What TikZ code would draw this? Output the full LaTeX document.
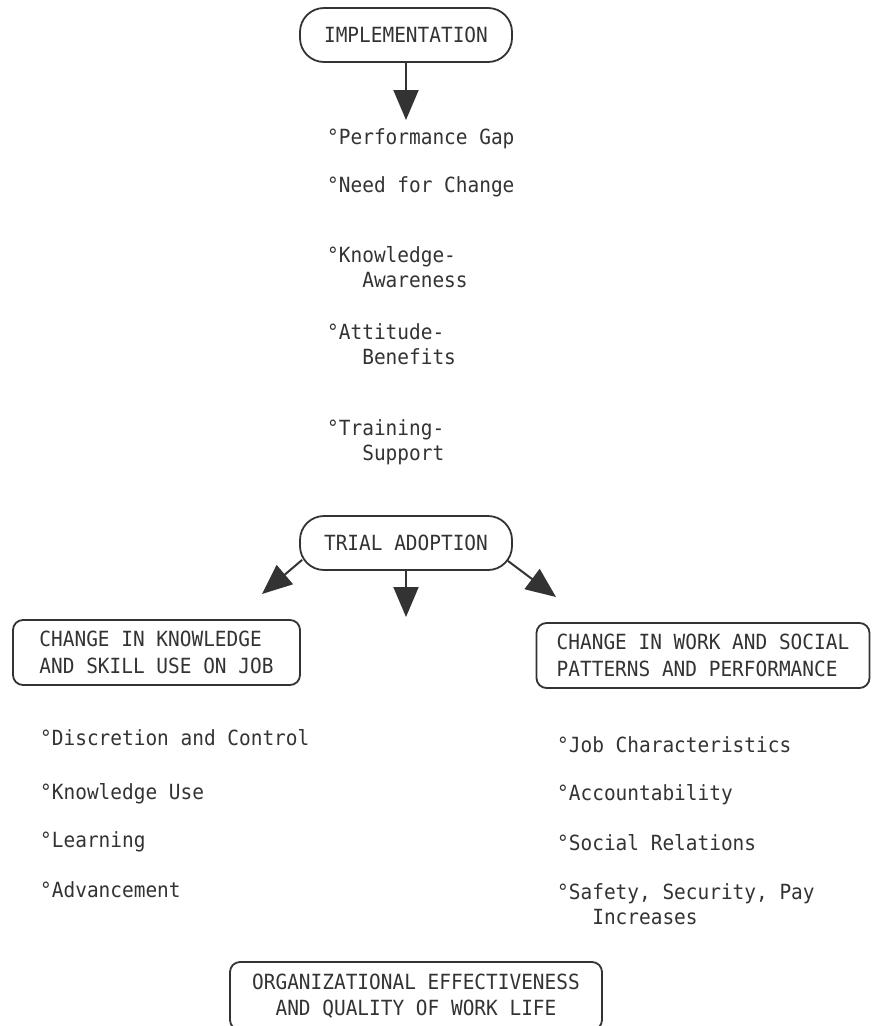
\documentclass[tikz,border=0pt]{standalone}
\usepackage{fontspec}
\usetikzlibrary{arrows.meta,calc}
% typewriter face used for every label
\newfontfamily\typewriter[FakeStretch=0.93]{DejaVu Sans Mono}
\definecolor{ink}{HTML}{333333}
\definecolor{paper}{HTML}{FFFFFF}
\begin{document}
\begin{tikzpicture}[x=1pt,y=-1pt,
  every node/.style={font=\typewriter\fontsize{20.9}{25}\selectfont, text=ink},
  stadium/.style={draw=ink, line width=1.8pt, rounded corners=24pt,
    minimum width=212pt, minimum height=54pt, inner sep=0pt},
  panel/.style={draw=ink, line width=1.8pt, rounded corners=10pt,
    inner sep=0pt, font=\typewriter\fontsize{20.9}{27}\selectfont},
  item/.style={anchor=base west, inner sep=0pt, align=left},
  flow/.style={draw=ink, line width=2pt, -{Triangle[length=30pt,width=25pt]}}
]
\fill[paper] (0,0) rectangle (871,1026);
\useasboundingbox (0,0) rectangle (871,1026);

% stage boxes
\node[stadium] (impl) at (406,35) {IMPLEMENTATION};
\node[stadium] (trial) at (406,543) {TRIAL ADOPTION};

% outcome panels
\node[panel, align=left, minimum width=287pt, minimum height=65pt]
  (skill) at (156.5,652.5) {CHANGE IN KNOWLEDGE\\AND SKILL USE ON JOB};
\node[panel, align=left, minimum width=333pt, minimum height=65pt]
  (work) at (703,655.5) {CHANGE IN WORK AND SOCIAL\\PATTERNS AND PERFORMANCE};
\node[panel, align=center, minimum width=372pt, minimum height=68pt, font=\typewriter\fontsize{20.9}{26}\selectfont]
  (qwl) at (416,996) {ORGANIZATIONAL EFFECTIVENESS\\AND QUALITY OF WORK LIFE};

% factors leading to trial adoption (base = baseline of the last line)
\node[item] (gap)   at (327,144.5) {°Performance Gap};
\node[item] (need)  at (327,192.5) {°Need for Change};
\node[item] (aware) at (327,287.5) {°Knowledge-\\\hphantom{°Kn}Awareness};
\node[item] (att)   at (327,364.5) {°Attitude-\\\hphantom{°At}Benefits};
\node[item] (train) at (327,460.5) {°Training-\\\hphantom{°Tr}Support};

% knowledge and skill outcomes
\node[item] (disc)  at (40,745.5) {°Discretion and Control};
\node[item] (kuse)  at (40,799.5) {°Knowledge Use};
\node[item] (learn) at (40,847.5) {°Learning};
\node[item] (adv)   at (40,897.5) {°Advancement};

% work and social outcomes
\node[item] (job)   at (557,752.5) {°Job Characteristics};
\node[item] (acc)   at (557,800.5) {°Accountability};
\node[item] (soc)   at (557,850.5) {°Social Relations};
\node[item] (safe)  at (557,924.5) {°Safety, Security, Pay\\\hphantom{°Sa}Increases};

% arrow ends
\coordinate (implTip) at (406,120);
\coordinate (tipL) at (262,594);
\coordinate (tipM) at (406,617);
\coordinate (tipR) at (556,597);

\draw[flow] (impl.south) -- (implTip);
\draw[flow] ($(trial.south west)+(3,-11)$) -- (tipL);
\draw[flow] (trial.south) -- (tipM);
\draw[flow] ($(trial.south east)+(-5,-10)$) -- (tipR);
\end{tikzpicture}
\end{document}
